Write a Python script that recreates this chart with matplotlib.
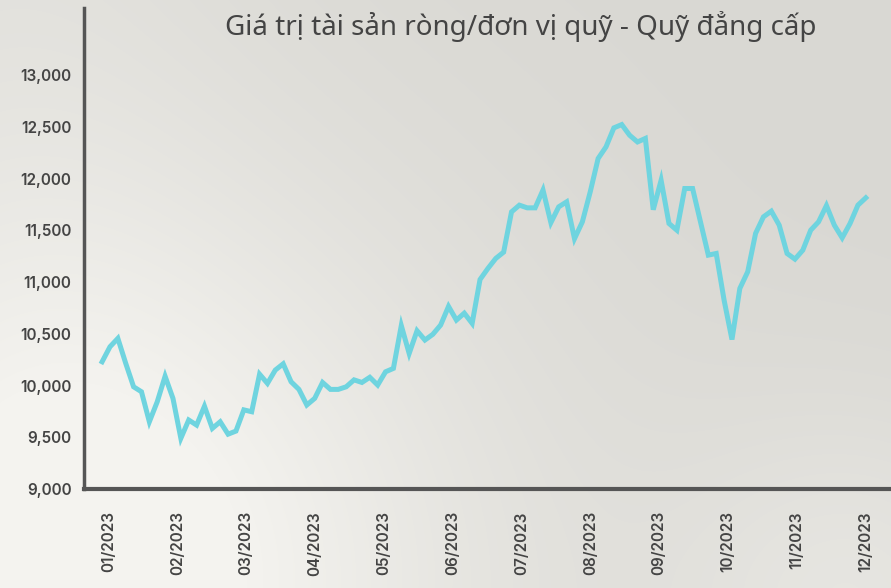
import numpy as np
import matplotlib.pyplot as plt
from matplotlib.ticker import FuncFormatter

# NAV per fund unit (about twice a week through 2023)
nav = [10230, 10375, 10456, 10215, 9988, 9940, 9650, 9843, 10090, 9876,
       9490, 9667, 9618, 9800, 9586, 9650, 9530, 9560, 9765, 9747,
       10110, 10021, 10150, 10210, 10037, 9963, 9812, 9876, 10030, 9963,
       9963, 9988, 10055, 10030, 10080, 10005, 10133, 10166, 10580, 10310,
       10530, 10440, 10495, 10585, 10765, 10633, 10700, 10601, 11025, 11132,
       11229, 11290, 11679, 11744, 11718, 11718, 11890, 11575, 11728, 11776,
       11420, 11583, 11873, 12195, 12307, 12491, 12523, 12420, 12355, 12389,
       11700, 11985, 11567, 11502, 11905, 11905, 11583, 11261, 11277, 10826,
       10445, 10939, 11100, 11471, 11631, 11686, 11551, 11277, 11222, 11309,
       11502, 11583, 11740, 11551, 11428, 11567, 11744, 11815]
months = ["01/2023", "02/2023", "03/2023", "04/2023", "05/2023", "06/2023",
          "07/2023", "08/2023", "09/2023", "10/2023", "11/2023", "12/2023"]
yticks = [9000, 9500, 10000, 10500, 11000, 11500, 12000, 12500, 13000]
title = "Giá trị tài sản ròng/đơn vị quỹ - Quỹ đẳng cấp"

W, H = 891, 588
fig = plt.figure(figsize=(W / 100, H / 100), dpi=100)

# soft grey background with a lighter patch lower left
yy, xx = np.mgrid[0:H, 0:W]
d1 = np.hypot(xx - 120, yy - 580)
d2 = np.hypot(xx - 860, yy - 600)
w = np.exp(-(d1 / 400) ** 2) + 0.45 * np.exp(-(d2 / 200) ** 2) + 0.25 * np.exp(-(xx / 250) ** 2)
w = np.clip(w, 0, 1)
dark = np.array([217, 216, 211]) / 255
light = np.array([244, 243, 239]) / 255
bg_img = dark + (light - dark) * w[..., None]
bg = fig.add_axes([0, 0, 1, 1], zorder=-1)
bg.imshow(bg_img, aspect="auto")
bg.axis("off")

ax = fig.add_axes([84 / W, 99 / H, 1 - 84 / W, (489 - 8) / H])
ax.set_facecolor("none")
x = np.arange(len(nav))
ax.plot(x, nav, color="#6fd4df", lw=3.6, solid_joinstyle="miter")

ax.set_xlim(-2.3, 100.2)
ax.set_ylim(9000, 13650)
ax.set_yticks(yticks)
ax.yaxis.set_major_formatter(FuncFormatter(lambda v, p: f"{int(v):,}"))
ax.set_xticks(np.linspace(0.8, 97, len(months)))
ax.set_xticklabels(months, rotation=90)

for s in ["top", "right"]:
    ax.spines[s].set_visible(False)
ax.spines["left"].set_color("#555555")
ax.spines["left"].set_linewidth(2.5)
ax.spines["bottom"].set_color("#555555")
ax.spines["bottom"].set_linewidth(3)
ax.tick_params(axis="both", length=0, colors="#444444", labelsize=11)
ax.tick_params(axis="y", pad=9)
ax.tick_params(axis="x", pad=16)
for lab in ax.get_xticklabels() + ax.get_yticklabels():
    lab.set_fontfamily("Inter")
    lab.set_fontweight("semibold")

fig.text(521 / W, 1 - 27 / H, title, ha="center", va="center",
         fontsize=20, color="#444444", family="Noto Sans")

fig.savefig("out.png", dpi=100)
